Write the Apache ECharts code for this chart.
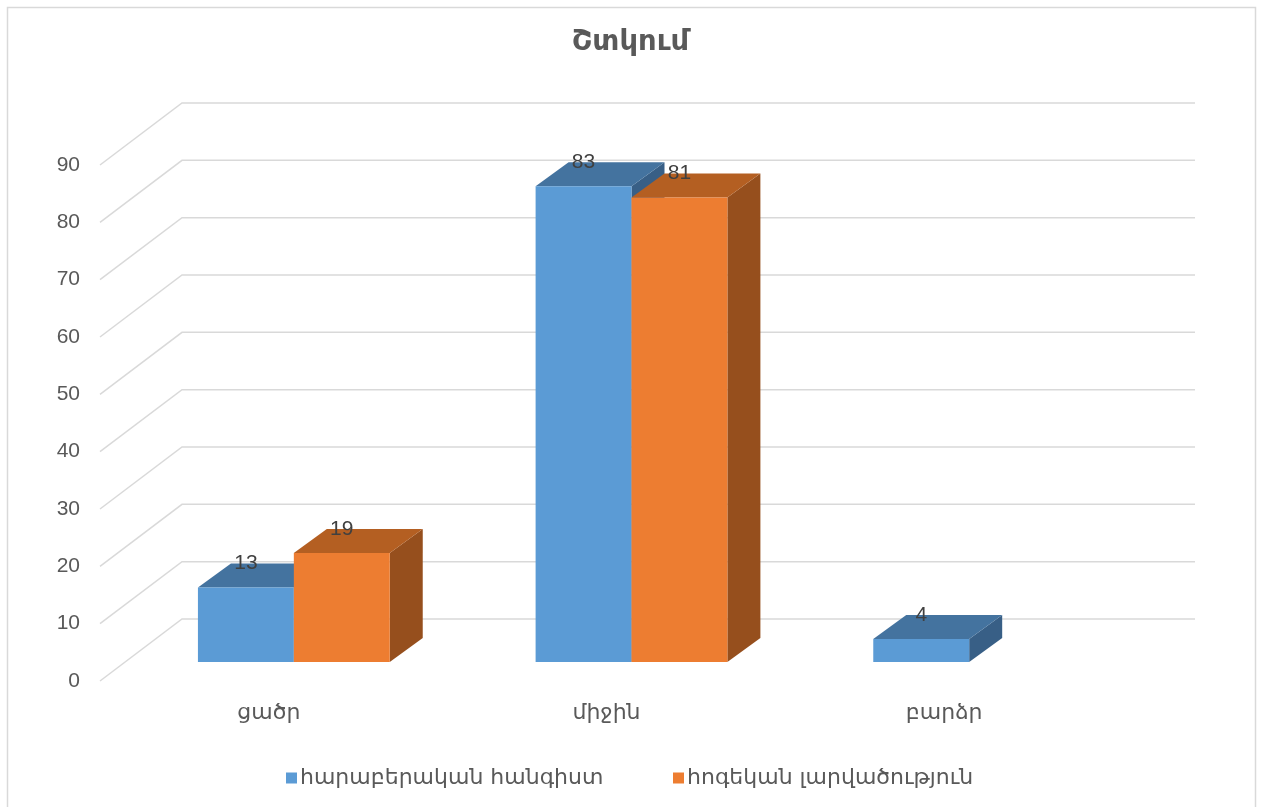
<!DOCTYPE html>
<html>
<head>
<meta charset="utf-8">
<script src="https://cdn.jsdelivr.net/npm/echarts@6/dist/echarts.min.js"></script>
<style>
  html, body { margin: 0; padding: 0; background: #ffffff; }
  #chart { width: 1261px; height: 807px; }
</style>
</head>
<body>
<div id="chart"></div>
<script>
// ---- data ----
const chartTitle = 'Շտկում';
const categories = ['ցածր', 'միջին', 'բարձր'];
const seriesNames = ['հարաբերական հանգիստ', 'հոգեկան լարվածություն'];
const relaxValues = [13, 83, 4];
const tensionValues = [19, 81, null];
const yTicks = [0, 10, 20, 30, 40, 50, 60, 70, 80, 90];

// ---- 3D look parameters ----
const FONT = "'DejaVu Sans', 'Liberation Sans', sans-serif";
const NUM_FONT = "'Liberation Sans', 'DejaVu Sans', sans-serif";
const BAR_RATIO = 0.284;          // bar width relative to category band
const BAR_DX = 33, BAR_DY = -24;  // bar depth offset
const WALL_FRONT = [-25, 19];     // floor front edge relative to the bar plane
const WALL_BACK = [57, -43];      // back wall relative to the bar plane
const GRID_COLOR = '#d9d9d9';
const LABEL_COLOR = '#595959';

const palettes = [
  { front: '#5B9BD5', top: '#44739F', side: '#385F86' },
  { front: '#ED7D31', top: '#B45F22', side: '#964F1D' }
];

function toPairs(arr) {
  return arr.map((v, i) => [i, v]);
}

// Walls: diagonal on the side wall, then horizontal across the back wall
function renderGridLine(params, api) {
  const cs = params.coordSys;
  const y = api.coord([0, api.value(0)])[1];
  const pts = [
    [cs.x + WALL_FRONT[0], y + WALL_FRONT[1]],
    [cs.x + WALL_BACK[0], y + WALL_BACK[1]],
    [cs.x + cs.width + WALL_BACK[0], y + WALL_BACK[1]]
  ];
  return {
    type: 'polyline',
    shape: { points: pts },
    style: { stroke: GRID_COLOR, lineWidth: 1.5, fill: null }
  };
}

function makeBarRenderer(side, colors) {
  return function (params, api) {
    const v = api.value(1);
    if (v === null || v === undefined || isNaN(v)) return;
    const cat = api.value(0);
    const top = api.coord([cat, v]);
    const base = api.coord([cat, 0]);
    const w = api.size([1, 0])[0] * BAR_RATIO;
    const x0 = side < 0 ? top[0] - w : top[0];
    const x1 = x0 + w;
    const yt = top[1], yb = base[1];
    return {
      type: 'group',
      children: [
        { type: 'polygon', z2: 1,
          shape: { points: [[x1, yb], [x1 + BAR_DX, yb + BAR_DY], [x1 + BAR_DX, yt + BAR_DY], [x1, yt]] },
          style: { fill: colors.side } },
        { type: 'polygon', z2: 2,
          shape: { points: [[x0, yt], [x0 + BAR_DX, yt + BAR_DY], [x1 + BAR_DX, yt + BAR_DY], [x1, yt]] },
          style: { fill: colors.top } },
        { type: 'rect', z2: 3,
          shape: { x: x0, y: yt, width: w, height: yb - yt },
          style: { fill: colors.front } },
        { type: 'text', z2: 10,
          style: { text: String(v), x: (x0 + x1) / 2, y: yt + BAR_DY,
                   align: 'center', verticalAlign: 'middle',
                   fill: '#404040', font: '21px ' + NUM_FONT } }
      ]
    };
  };
}

const legendText = { fontFamily: FONT, fontSize: 22, color: LABEL_COLOR, padding: [0, 0, 0, -2] };

const chart = echarts.init(document.getElementById('chart'), null, { renderer: 'canvas' });

chart.setOption({
  backgroundColor: '#ffffff',
  animation: false,
  title: {
    text: chartTitle,
    left: 'center',
    top: 23,
    textStyle: { fontFamily: FONT, fontSize: 29, fontWeight: 'bold', color: LABEL_COLOR }
  },
  legend: [
    { left: 281, top: 762, itemWidth: 11, itemHeight: 11, icon: 'rect',
      data: [seriesNames[0]], textStyle: legendText },
    { left: 668, top: 762, itemWidth: 11, itemHeight: 11, icon: 'rect',
      data: [seriesNames[1]], textStyle: legendText }
  ],
  graphic: [{
    type: 'rect',
    shape: { x: 7.5, y: 7.5, width: 1248, height: 820 },
    style: { fill: null, stroke: GRID_COLOR, lineWidth: 1.5 },
    z: -10
  }],
  grid: [
    // plane of the bars' front faces
    { left: 125, right: 123, top: 146, bottom: 145 },
    // floor front edge, carrying the axis labels
    { left: 100, right: 148, top: 165, bottom: 126 }
  ],
  xAxis: [
    { gridIndex: 0, type: 'category', data: categories, show: false },
    { gridIndex: 1, type: 'category', data: categories,
      axisLine: { show: false }, axisTick: { show: false }, splitLine: { show: false },
      axisLabel: { margin: 21, fontFamily: FONT, fontSize: 22, color: LABEL_COLOR } }
  ],
  yAxis: [
    { gridIndex: 0, type: 'value', min: 0, max: 90, interval: 10, show: false },
    { gridIndex: 1, type: 'value', min: 0, max: 90, interval: 10,
      axisLine: { show: false }, axisTick: { show: false }, splitLine: { show: false },
      axisLabel: { margin: 20, fontFamily: NUM_FONT, fontSize: 21, color: LABEL_COLOR } }
  ],
  series: [
    { type: 'custom', name: 'walls', xAxisIndex: 0, yAxisIndex: 0, z: 1,
      data: yTicks.map(v => [v]), encode: { y: 0 },
      renderItem: renderGridLine, silent: true },
    { type: 'custom', name: seriesNames[0], xAxisIndex: 0, yAxisIndex: 0, z: 2,
      itemStyle: { color: palettes[0].front },
      data: toPairs(relaxValues), encode: { x: 0, y: 1 },
      renderItem: makeBarRenderer(-1, palettes[0]) },
    { type: 'custom', name: seriesNames[1], xAxisIndex: 0, yAxisIndex: 0, z: 3,
      itemStyle: { color: palettes[1].front },
      data: toPairs(tensionValues), encode: { x: 0, y: 1 },
      renderItem: makeBarRenderer(1, palettes[1]) }
  ]
});
</script>
</body>
</html>
